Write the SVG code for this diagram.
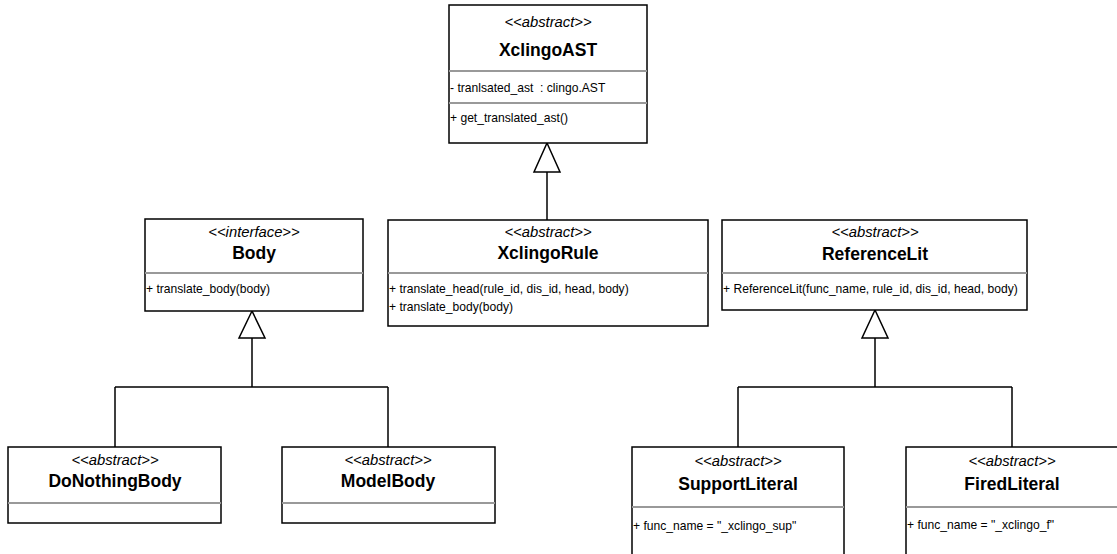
<svg xmlns="http://www.w3.org/2000/svg" width="1117" height="554" viewBox="0 0 1117 554">
  <style>
    .box { fill: #ffffff; stroke: #000000; stroke-width: 1.5; }
    .sep { stroke: #999999; stroke-width: 1.8; fill: none; }
    .stereo { font-family: "Liberation Sans", Arial, sans-serif; font-style: italic; font-size: 14.8px; text-anchor: middle; fill: #000; }
    .name { font-family: "Liberation Sans", Arial, sans-serif; font-weight: bold; font-size: 17.5px; text-anchor: middle; fill: #000; }
    .member { font-family: "Liberation Sans", Arial, sans-serif; font-size: 12.1px; fill: #000; white-space: pre; }
    .edge { stroke: #000000; stroke-width: 1.5; fill: none; }
    .gen { fill: #ffffff; stroke: #000000; stroke-width: 1.5; }
  </style>
  <rect width="1117" height="554" fill="#ffffff"/>

  <!-- inheritance connectors -->
  <g id="connectors">
    <!-- XclingoRule extends XclingoAST -->
    <path class="edge" d="M547,220 V172"/>
    <polygon class="gen" points="547,143 534,172 560,172"/>
    <!-- DoNothingBody / ModelBody implement Body -->
    <path class="edge" d="M252,338 V387 M115,387 H388 M115,387 V447 M388,387 V447"/>
    <polygon class="gen" points="252,311 239,338 265,338"/>
    <!-- SupportLiteral / FiredLiteral extend ReferenceLit -->
    <path class="edge" d="M875,338 V387 M738,387 H1012 M738,387 V447 M1012,387 V447"/>
    <polygon class="gen" points="875,310 862,338 888,338"/>
  </g>

  <g id="XclingoAST">
    <rect class="box" x="449" y="5" width="198" height="138"/>
    <line class="sep" x1="449" y1="71" x2="647" y2="71"/>
    <line class="sep" x1="449" y1="103" x2="647" y2="103"/>
    <text class="stereo" x="548" y="27">&lt;&lt;abstract&gt;&gt;</text>
    <text class="name" x="548" y="56">XclingoAST</text>
    <text class="member" x="450" y="92">- tranlsated_ast  : clingo.AST</text>
    <text class="member" x="450" y="122">+ get_translated_ast()</text>
  </g>

  <g id="Body">
    <rect class="box" x="145" y="219" width="218" height="92"/>
    <line class="sep" x1="145" y1="273" x2="363" y2="273"/>
    <text class="stereo" x="254" y="237">&lt;&lt;interface&gt;&gt;</text>
    <text class="name" x="254" y="259">Body</text>
    <text class="member" x="146" y="293">+ translate_body(body)</text>
  </g>

  <g id="XclingoRule">
    <rect class="box" x="388" y="220" width="320" height="106"/>
    <line class="sep" x1="388" y1="273" x2="708" y2="273"/>
    <text class="stereo" x="548" y="237">&lt;&lt;abstract&gt;&gt;</text>
    <text class="name" x="548" y="259">XclingoRule</text>
    <text class="member" x="389" y="293">+ translate_head(rule_id, dis_id, head, body)</text>
    <text class="member" x="389" y="311">+ translate_body(body)</text>
  </g>

  <g id="ReferenceLit">
    <rect class="box" x="722" y="220" width="305" height="90"/>
    <line class="sep" x1="722" y1="273" x2="1027" y2="273"/>
    <text class="stereo" x="875" y="237">&lt;&lt;abstract&gt;&gt;</text>
    <text class="name" x="875" y="260">ReferenceLit</text>
    <text class="member" x="723" y="293">+ ReferenceLit(func_name, rule_id, dis_id, head, body)</text>
  </g>

  <g id="DoNothingBody">
    <rect class="box" x="8" y="447" width="213" height="76"/>
    <line class="sep" x1="8" y1="503" x2="221" y2="503"/>
    <text class="stereo" x="115" y="465">&lt;&lt;abstract&gt;&gt;</text>
    <text class="name" x="115" y="487">DoNothingBody</text>
  </g>

  <g id="ModelBody">
    <rect class="box" x="282" y="447" width="213" height="76"/>
    <line class="sep" x1="282" y1="503" x2="495" y2="503"/>
    <text class="stereo" x="388" y="465">&lt;&lt;abstract&gt;&gt;</text>
    <text class="name" x="388" y="487">ModelBody</text>
  </g>

  <g id="SupportLiteral">
    <rect class="box" x="632" y="447" width="212" height="112"/>
    <line class="sep" x1="632" y1="507" x2="844" y2="507"/>
    <text class="stereo" x="738" y="466">&lt;&lt;abstract&gt;&gt;</text>
    <text class="name" x="738" y="490">SupportLiteral</text>
    <text class="member" x="633" y="530">+ func_name = "_xclingo_sup"</text>
  </g>

  <g id="FiredLiteral">
    <rect class="box" x="906" y="447" width="216" height="112"/>
    <line class="sep" x1="906" y1="507" x2="1122" y2="507"/>
    <text class="stereo" x="1012" y="466">&lt;&lt;abstract&gt;&gt;</text>
    <text class="name" x="1012" y="490">FiredLiteral</text>
    <text class="member" x="907" y="529">+ func_name = "_xclingo_f"</text>
  </g>
</svg>
